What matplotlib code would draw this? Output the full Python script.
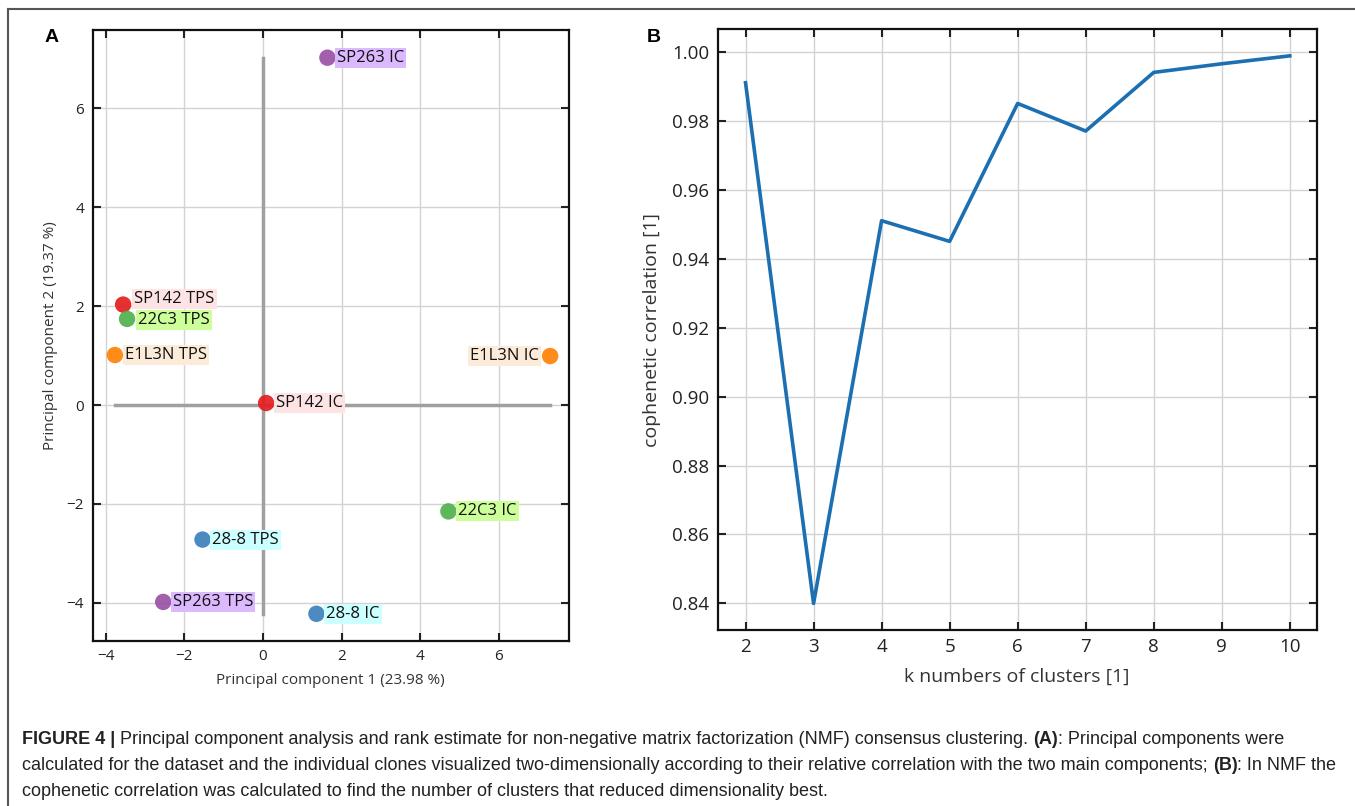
import matplotlib
matplotlib.use('Agg')
import matplotlib.pyplot as plt
from matplotlib import font_manager

# ---- data -------------------------------------------------------------
clones = ['SP263 IC', 'SP142 TPS', '22C3 TPS', 'E1L3N TPS', 'E1L3N IC',
          'SP142 IC', '22C3 IC', '28-8 TPS', 'SP263 TPS', '28-8 IC']
pc1 = [1.64, -3.56, -3.46, -3.77, 7.31, 0.08, 4.72, -1.54, -2.54, 1.36]
pc2 = [7.02, 2.03, 1.74, 1.01, 0.99, 0.04, -2.15, -2.72, -3.98, -4.22]

k_clusters = [2, 3, 4, 5, 6, 7, 8, 9, 10]
cophenetic = [0.991, 0.840, 0.951, 0.945, 0.985, 0.977, 0.994, 0.9965, 0.9988]

# antibody -> (marker colour, label background)
antibody_colors = {
    'SP263': ('#984ea3', '#dcb8ff'),
    'SP142': ('#e41a1c', '#fde3e3'),
    '22C3': ('#4daf4a', '#ccff99'),
    'E1L3N': ('#ff7f00', '#fdebd9'),
    '28-8': ('#377eb8', '#ccffff'),
}

W, H = 1355, 806
installed = {f.name for f in font_manager.fontManager.ttflist}
ui_font = 'Open Sans' if 'Open Sans' in installed else 'DejaVu Sans'
cap_font = 'Liberation Sans' if 'Liberation Sans' in installed else 'DejaVu Sans'
plt.rcParams['font.family'] = [ui_font, 'DejaVu Sans']

fig = plt.figure(figsize=(W / 100, H / 100), dpi=100)


def style_axes(ax, tick_size):
    ax.grid(True, color='#d3d3d3', linewidth=1.0)
    ax.set_axisbelow(True)
    ax.tick_params(direction='in', length=6, width=1.5, top=True, right=True,
                   labelsize=tick_size, pad=6, colors='#222222')
    for s in ax.spines.values():
        s.set_linewidth(1.6)
        s.set_color('#111111')


# ---- panel A: PCA ---------------------------------------------------------
axA = fig.add_axes([92.5 / W, 1 - 641 / H, (569 - 92.5) / W, (641 - 30) / H])
style_axes(axA, 11)
axA.plot([min(pc1), max(pc1)], [0, 0], color='#a0a0a0', linewidth=2.5, zorder=1)
axA.plot([0, 0], [min(pc2), max(pc2)], color='#a0a0a0', linewidth=2.5, zorder=1)

offsets = {'SP142 TPS': (8, 4), '22C3 TPS': (8, -1)}
for name, x, y in zip(clones, pc1, pc2):
    mcol, bcol = antibody_colors[name.split()[0]]
    axA.scatter(x, y, s=140, color=mcol, alpha=0.9, edgecolor='none', zorder=3)
    if name == 'E1L3N IC':
        xt, ha = (-8, 0), 'right'
    else:
        xt, ha = offsets.get(name, (7, 0)), 'left'
    axA.annotate(name, (x, y), xytext=xt, textcoords='offset points',
                 ha=ha, va='center', fontsize=12, color='#111111', zorder=4,
                 bbox=dict(boxstyle='square,pad=0.12', facecolor=bcol,
                           edgecolor='none'))

axA.set_xlim(-4.34, 7.79)
axA.set_ylim(-4.77, 7.58)
axA.set_xticks([-4, -2, 0, 2, 4, 6])
axA.set_yticks([-4, -2, 0, 2, 4, 6])
axA.set_xticklabels(['\u22124', '\u22122', '0', '2', '4', '6'])
axA.set_yticklabels(['\u22124', '\u22122', '0', '2', '4', '6'])
axA.set_xlabel('Principal component 1 (23.98 %)', fontsize=11, color='#333333',
               labelpad=6)
axA.set_ylabel('Principal component 2 (19.37 %)', fontsize=11, color='#333333',
               labelpad=6)

# ---- panel B: cophenetic correlation ------------------------------------
axB = fig.add_axes([717.5 / W, 1 - 630 / H, (1317 - 717.5) / W, (630 - 29.3) / H])
style_axes(axB, 13.5)
axB.plot(k_clusters, cophenetic, color='#1c70b2', linewidth=2.6)
axB.set_xlim(1.588, 10.40)
axB.set_ylim(0.8323, 1.0065)
axB.set_xticks(k_clusters)
axB.set_yticks([0.84, 0.86, 0.88, 0.90, 0.92, 0.94, 0.96, 0.98, 1.00])
axB.set_yticklabels(['%.2f' % v for v in axB.get_yticks()])
axB.set_xlabel('k numbers of clusters [1]', fontsize=14, color='#333333', labelpad=8)
axB.set_ylabel('cophenetic correlation [1]', fontsize=14, color='#333333', labelpad=8)

# panel letters
fig.text(52 / W, 1 - 37 / H, 'A', fontsize=14, fontweight='bold', ha='center',
         va='center', family=cap_font)
fig.text(654 / W, 1 - 37 / H, 'B', fontsize=14, fontweight='bold', ha='center',
         va='center', family=cap_font)

# frame around the figure
fig.add_artist(plt.Line2D([8 / W, 8 / W], [0, 1 - 9 / H], color='#555555',
                          linewidth=1.5, transform=fig.transFigure))
fig.add_artist(plt.Line2D([8 / W, 1], [1 - 9 / H, 1 - 9 / H], color='#555555',
                          linewidth=1.5, transform=fig.transFigure))

# ---- caption ---------------------------------------------------------------
caption = [
    [('FIGURE 4 |', 'bold'),
     (' Principal component analysis and rank estimate for non-negative matrix '
      'factorization (NMF) consensus clustering. ', 'normal'),
     ('(A)', 'bold'), (': Principal components were', 'normal')],
    [('calculated for the dataset and the individual clones visualized '
      'two-dimensionally according to their relative correlation with the two '
      'main components; ', 'normal'),
     ('(B)', 'bold'), (': In NMF the', 'normal')],
    [('cophenetic correlation was calculated to find the number of clusters '
      'that reduced dimensionality best.', 'normal')],
]
renderer = fig.canvas.get_renderer()
for i, line in enumerate(caption):
    x_px = 22
    y = 1 - (740 + 26 * i) / H
    for txt, weight in line:
        t = fig.text(x_px / W, y, txt, fontsize=12.95, fontweight=weight,
                     family=cap_font, color='#222222', va='center', ha='left')
        x_px += t.get_window_extent(renderer).width

fig.savefig('out.png', dpi=100)
